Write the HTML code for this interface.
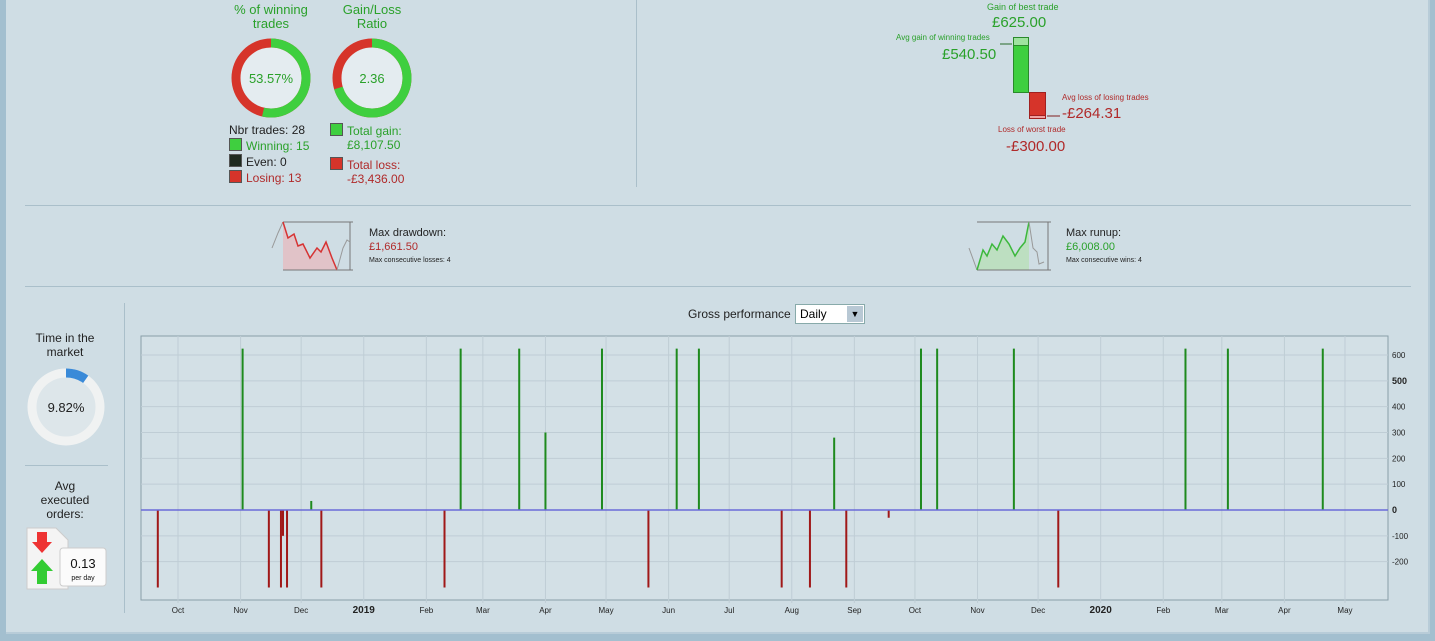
<!DOCTYPE html>
<html><head><meta charset="utf-8"><style>
body{margin:0;width:1435px;height:641px;background:#a3bfcf;font-family:"Liberation Sans",sans-serif;overflow:hidden;position:relative}
#panel{position:absolute;left:6px;top:-2px;width:1422px;height:634px;background:#cfdde4;border-right:2px solid #b8ccd8;border-bottom:2px solid #b8ccd8}
.a{position:absolute;white-space:nowrap}
.g{color:#2aa12a}.r{color:#b02a2a}
.sep{position:absolute;background:#aabfca}
.sq{display:inline-block;width:11px;height:11px;vertical-align:-1px;margin-right:4px;border:1px solid #555}
</style></head><body>
<div id="panel"></div>
<div class="sep" style="left:636px;top:0;width:1px;height:187px"></div>
<div class="sep" style="left:25px;top:205px;width:1386px;height:1px"></div>
<div class="sep" style="left:25px;top:286px;width:1386px;height:1px"></div>
<div class="sep" style="left:124px;top:303px;width:1px;height:310px"></div>
<div class="sep" style="left:25px;top:465px;width:83px;height:1px"></div>

<div class="a g" style="left:221px;top:3px;width:100px;text-align:center;font-size:13px;line-height:14px">% of winning<br>trades</div>
<div class="a g" style="left:322px;top:3px;width:100px;text-align:center;font-size:13px;line-height:14px">Gain/Loss<br>Ratio</div>
<svg class="a" style="left:220px;top:28px" width="210" height="100">
<circle cx="51" cy="50" r="35" fill="#e4ecf0"/>
<circle cx="51" cy="50" r="35" fill="none" stroke="#d6342a" stroke-width="9"/>
<circle cx="51" cy="50" r="35" fill="none" stroke="#3fcf3f" stroke-width="9" stroke-dasharray="117.8 220" transform="rotate(-90 51 50)"/>
<text x="51" y="55" text-anchor="middle" font-size="13" fill="#2aa12a" font-family="Liberation Sans">53.57%</text>
<circle cx="152" cy="50" r="35" fill="#e4ecf0"/>
<circle cx="152" cy="50" r="35" fill="none" stroke="#d6342a" stroke-width="9"/>
<circle cx="152" cy="50" r="35" fill="none" stroke="#3fcf3f" stroke-width="9" stroke-dasharray="154.5 220" transform="rotate(-90 152 50)"/>
<text x="152" y="55" text-anchor="middle" font-size="13" fill="#2aa12a" font-family="Liberation Sans">2.36</text>
</svg>
<div class="a" style="left:229px;top:123px;font-size:12px;line-height:15px">
<div style="color:#222">Nbr trades: 28</div>
<div class="g"><span class="sq" style="background:#3fcf3f"></span>Winning: 15</div>
<div style="color:#222"><span class="sq" style="background:#1f2a1f"></span>Even: 0</div>
<div class="r"><span class="sq" style="background:#d6342a"></span>Losing: 13</div></div>
<div class="a" style="left:330px;top:123px;font-size:12px;line-height:14px">
<div class="g"><span class="sq" style="background:#3fcf3f"></span>Total gain:</div><div class="g" style="padding-left:17px">£8,107.50</div>
<div class="r" style="margin-top:5px"><span class="sq" style="background:#d6342a"></span>Total loss:</div><div class="r" style="padding-left:17px">-£3,436.00</div></div>

<div class="a g" style="left:987px;top:2px;font-size:9px">Gain of best trade</div>
<div class="a g" style="left:992px;top:14px;font-size:15px">£625.00</div>
<div class="a g" style="left:896px;top:33px;font-size:8px">Avg gain of winning trades</div>
<div class="a g" style="left:942px;top:46px;font-size:15px">£540.50</div>
<svg class="a" style="left:1000px;top:30px" width="70" height="95">
<line x1="0" y1="14" x2="12" y2="14" stroke="#2a6a2a"/>
<rect x="13.5" y="7.5" width="15" height="55" fill="#3fcf3f" stroke="#2a8a2a"/>
<rect x="13.5" y="7.5" width="15" height="8" fill="#9fe39f" stroke="#2a8a2a"/>
<rect x="29.5" y="62.5" width="16" height="26" fill="#d6342a" stroke="#a02020"/>
<rect x="29.5" y="85.5" width="16" height="3" fill="#f0a0a0" stroke="#a02020"/>
<line x1="47" y1="86" x2="60" y2="86" stroke="#802020"/>
</svg>
<div class="a r" style="left:1062px;top:93px;font-size:8px">Avg loss of losing trades</div>
<div class="a r" style="left:1062px;top:105px;font-size:15px">-£264.31</div>
<div class="a r" style="left:998px;top:125px;font-size:8px">Loss of worst trade</div>
<div class="a r" style="left:1006px;top:138px;font-size:15px">-£300.00</div>

<svg class="a" style="left:270px;top:218px" width="90" height="55">
<polygon points="13,4 18,20 24,16 28,28 33,26 40,40 47,30 51,34 56,24 62,40 67,52 67,52 13,52" fill="#e8b8bc" opacity="0.7"/>
<line x1="13" y1="4" x2="83" y2="4" stroke="#777"/><line x1="13" y1="52" x2="83" y2="52" stroke="#777"/><line x1="80" y1="4" x2="80" y2="52" stroke="#777"/>
<polyline points="2,30 8,15 13,4" fill="none" stroke="#999"/>
<polyline points="13,4 18,20 24,16 28,28 33,26 40,40 47,30 51,34 56,24 62,40 67,52" fill="none" stroke="#d63333" stroke-width="1.5"/>
<polyline points="67,52 73,30 77,22 80,24" fill="none" stroke="#999"/>
</svg>
<div class="a" style="left:369px;top:227px;font-size:11px;color:#222">Max drawdown:</div>
<div class="a r" style="left:369px;top:241px;font-size:11px">£1,661.50</div>
<div class="a" style="left:369px;top:257px;font-size:7px;color:#222">Max consecutive losses: 4</div>

<svg class="a" style="left:965px;top:218px" width="90" height="55">
<polygon points="12,52 18,32 22,38 27,26 32,32 38,18 44,26 50,38 55,30 60,24 64,4 64,52" fill="#b8e0b8" opacity="0.8"/>
<line x1="12" y1="4" x2="86" y2="4" stroke="#777"/><line x1="12" y1="52" x2="86" y2="52" stroke="#777"/><line x1="83" y1="4" x2="83" y2="52" stroke="#777"/>
<polyline points="4,30 12,52" fill="none" stroke="#999"/>
<polyline points="12,52 18,32 22,38 27,26 32,32 38,18 44,26 50,38 55,30 60,24 64,4" fill="none" stroke="#3cb83c" stroke-width="1.5"/>
<polyline points="64,4 68,30 72,34 74,46 79,44" fill="none" stroke="#999"/>
</svg>
<div class="a" style="left:1066px;top:227px;font-size:11px;color:#222">Max runup:</div>
<div class="a g" style="left:1066px;top:241px;font-size:11px">£6,008.00</div>
<div class="a" style="left:1066px;top:257px;font-size:7px;color:#222">Max consecutive wins: 4</div>

<div class="a" style="left:20px;top:331px;width:90px;text-align:center;font-size:12px;line-height:14px;color:#222">Time in the<br>market</div>
<svg class="a" style="left:25px;top:366px" width="84" height="84">
<circle cx="41" cy="41" r="34" fill="#dde6ea" stroke="#f0f2f2" stroke-width="9"/>
<circle cx="41" cy="41" r="34" fill="none" stroke="#3a8ad8" stroke-width="9" stroke-dasharray="21 300" transform="rotate(-90 41 41)"/>
<text x="41" y="46" text-anchor="middle" font-size="13" fill="#222" font-family="Liberation Sans">9.82%</text>
</svg>
<div class="a" style="left:20px;top:479px;width:90px;text-align:center;font-size:12px;line-height:14px;color:#222">Avg<br>executed<br>orders:</div>
<svg class="a" style="left:26px;top:527px" width="82" height="64">
<path d="M1,1 H30 L42,13 V62 H1 Z" fill="#f4f4f4" stroke="#ccc"/>
<polygon points="11,5 21,5 21,15 26,15 16,26 6,15 11,15" fill="#e33"/>
<polygon points="16,32 27,44 21,44 21,57 11,57 11,44 5,44" fill="#3c3"/>
<rect x="34" y="21" width="46" height="38" rx="3" fill="#fbfbfb" stroke="#ccc"/>
<text x="57" y="41" text-anchor="middle" font-size="13" fill="#111" font-family="Liberation Sans">0.13</text>
<text x="57" y="53" text-anchor="middle" font-size="7" fill="#111" font-family="Liberation Sans">per day</text>
</svg>

<div class="a" style="left:688px;top:307px;font-size:12px;color:#222">Gross performance</div>
<div class="a" style="left:795px;top:304px;width:68px;height:18px;background:#fff;border:1px solid #8aa;font-size:12px"><span style="position:absolute;left:4px;top:2px">Daily</span><span style="position:absolute;right:1px;top:1px;width:16px;height:16px;background:#b8c8d4;font-size:9px;text-align:center;line-height:16px">▼</span></div>

<svg id="chart" class="a" style="left:0;top:0" width="1435" height="641"></svg>
<script>
const monthLabels=["Oct","Nov","Dec","2019","Feb","Mar","Apr","May","Jun","Jul","Aug","Sep","Oct","Nov","Dec","2020","Feb","Mar","Apr","May"];
const monthDays=[0,31,61,92,123,151,182,212,243,273,304,335,365,396,426,457,488,517,548,578];
const yTicks=[-200,-100,0,100,200,300,400,500,600];
const tradeDays=[-10,32,45,51,52,54,66,71,132,140,169,182,210,233,247,258,299,313,325,331,352,368,376,414,436,499,520,567];
const tradeValues=[-300,625,-300,-300,-100,-300,35,-300,-300,625,625,300,625,-300,625,625,-300,-300,280,-300,-30,625,625,625,-300,625,625,625];
const NS="http://www.w3.org/2000/svg";
const svg=document.getElementById('chart');
const L=141,R=1388,T=336,B=600;
const x=d=>178+d*2.019;
const y=v=>510-v*0.2583;
function mk(tag,attrs,parent){const e=document.createElementNS(NS,tag);for(const k in attrs)e.setAttribute(k,attrs[k]);(parent||svg).appendChild(e);return e;}
const bg=mk('rect',{x:L,y:T,width:R-L,height:B-T,fill:'#d3e0e6',stroke:'#8a9ea8'});


yTicks.forEach(v=>{
  const g=mk('line',{x1:L,x2:R,y1:y(v),y2:y(v),stroke:'#bfcdd5','stroke-width':1});
  
  
  const t=mk('text',{x:R+4,y:y(v)+3,'font-size':v===0||v===500?9:8,'font-weight':v===0||v===500?'bold':'normal',fill:'#222','font-family':'Liberation Sans'});
  t.textContent=v;
  
  
});
monthDays.forEach((d,i)=>{
  const g=mk('line',{x1:x(d),x2:x(d),y1:T,y2:B+3,stroke:'#bfcdd5'});
  
  
  const bold=/^20/.test(monthLabels[i]);
  const t=mk('text',{x:x(d),y:613,'text-anchor':'middle','font-size':bold?10:8,'font-weight':bold?'bold':'normal',fill:'#222','font-family':'Liberation Sans'});
  t.textContent=monthLabels[i];
  
  
});
tradeDays.forEach((d,i)=>{
  const v=tradeValues[i];
  const b=mk('line',{x1:x(d),x2:x(d),y1:y(0),y2:y(v),stroke:v>0?'#1e8a1e':'#a01818','stroke-width':2});
  
  
});
const z=mk('line',{x1:L,x2:R,y1:y(0),y2:y(0),stroke:'#6a6ad8','stroke-width':1.5});


</script>
</body></html>
